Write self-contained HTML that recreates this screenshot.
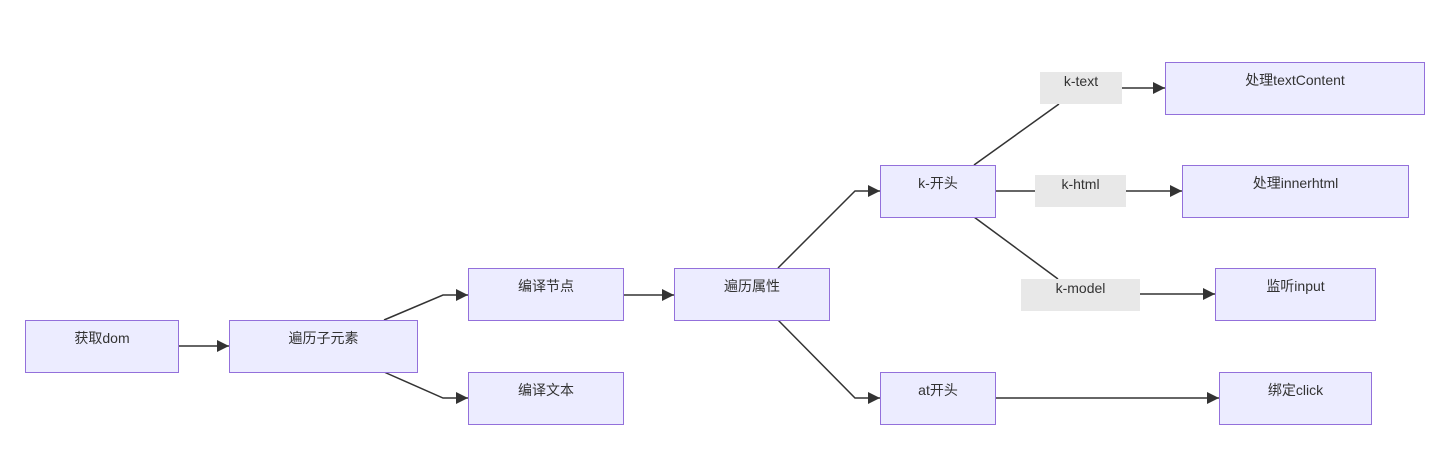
<!DOCTYPE html><html><head><meta charset="utf-8"><style>
body{margin:0;background:#fff;width:1451px;height:474px;overflow:hidden;position:relative;font-family:"Liberation Sans","Noto Sans CJK SC",sans-serif;font-size:14px;color:#333}
.n{position:absolute;box-sizing:border-box;background:#ececff;border:1px solid #9370db;text-align:center;padding-top:9px;line-height:16px}
.l{position:absolute;background:#e8e8e8;text-align:center;line-height:16px;padding-top:1px;box-sizing:border-box}
svg{position:absolute;left:0;top:0}
</style></head><body>
<svg width="1451" height="474"><defs><marker id="a" viewBox="0 0 10 10" refX="10" refY="5" markerWidth="8" markerHeight="8" orient="auto"><path d="M0,0L10,5L0,10z" fill="#333"/></marker></defs>
<g stroke="#333" stroke-width="1.5" fill="none">
<path d="M178,346H229" marker-end="url(#a)"/>
<path d="M384,320L443,295H468" marker-end="url(#a)"/>
<path d="M384,372L443,398H468" marker-end="url(#a)"/>
<path d="M623,295H674" marker-end="url(#a)"/>
<path d="M778,268L855,191H880" marker-end="url(#a)"/>
<path d="M778,320L855,398H880" marker-end="url(#a)"/>
<path d="M974,165L1059,104"/><path d="M1122,88H1165" marker-end="url(#a)"/>
<path d="M995,191H1035"/><path d="M1126,191H1182" marker-end="url(#a)"/>
<path d="M974,217L1058,279"/><path d="M1140,294H1215" marker-end="url(#a)"/>
<path d="M995,398H1219" marker-end="url(#a)"/>
</g></svg>
<div class="n" style="left:25px;top:320px;width:154px;height:53px">获取dom</div>
<div class="n" style="left:229px;top:320px;width:189px;height:53px">遍历子元素</div>
<div class="n" style="left:468px;top:268px;width:156px;height:53px">编译节点</div>
<div class="n" style="left:468px;top:372px;width:156px;height:53px">编译文本</div>
<div class="n" style="left:674px;top:268px;width:156px;height:53px">遍历属性</div>
<div class="n" style="left:880px;top:165px;width:116px;height:53px">k-开头</div>
<div class="n" style="left:880px;top:372px;width:116px;height:53px">at开头</div>
<div class="n" style="left:1165px;top:62px;width:260px;height:53px">处理textContent</div>
<div class="n" style="left:1182px;top:165px;width:227px;height:53px">处理innerhtml</div>
<div class="n" style="left:1215px;top:268px;width:161px;height:53px">监听input</div>
<div class="n" style="left:1219px;top:372px;width:153px;height:53px">绑定click</div>
<div class="l" style="left:1040px;top:72px;width:82px;height:32px">k-text</div>
<div class="l" style="left:1035px;top:175px;width:91px;height:32px">k-html</div>
<div class="l" style="left:1021px;top:279px;width:119px;height:32px">k-model</div>
</body></html>
